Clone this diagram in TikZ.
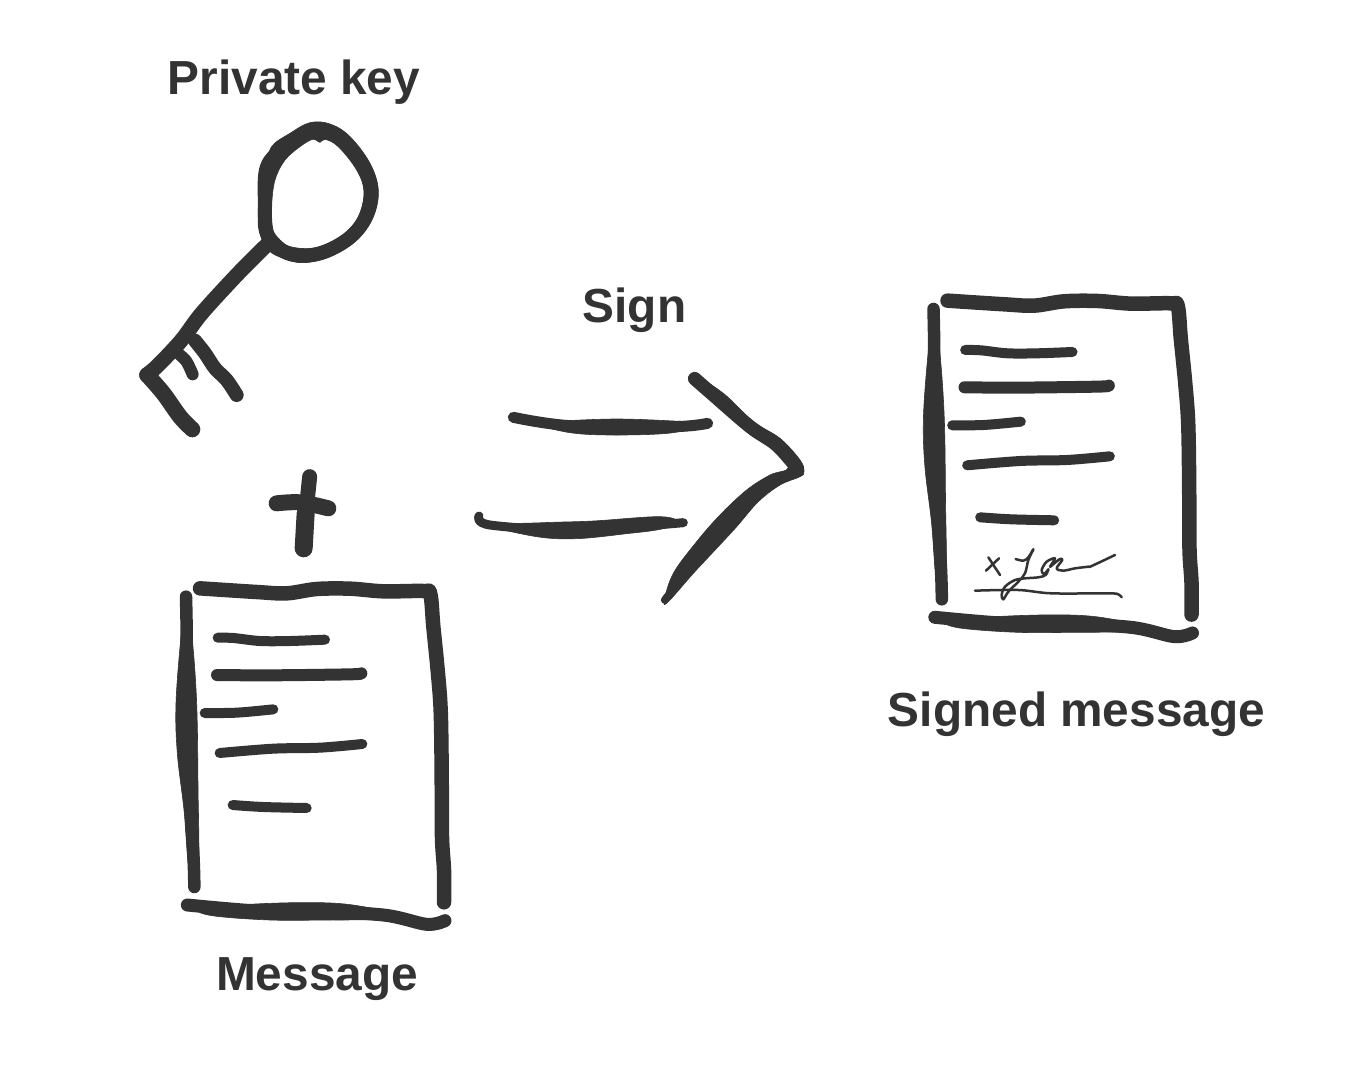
\documentclass[tikz,border=0pt]{standalone}
\usepackage{fontspec}
\setmainfont{Liberation Sans}
\definecolor{inkc}{HTML}{333333}
\newcommand{\inkblob}[1]{\path[ink] plot[smooth cycle, tension=0.6] coordinates {#1};}
\newcommand{\inkline}[2]{\draw[pen,line width=#1pt] plot[smooth, tension=0.55] coordinates {#2};}
\newcommand{\docbody}{%
  % top edge and right edge
  \inkline{14.5}{(90,55)(260,66)(350,70)(440,57)(540,56)(640,64)(760,63)(781,72)(790,170)(803,300)(812,420)(815,600)(816,800)(822,900)(822,997)}
  % left edge
  \inkline{12.5}{(48,80)(50,200)(48,400)(55,600)(70,850)(73,951)}
  \inkblob{(48,90)(33,200)(18,400)(22,550)(42,720)(58,900)(85,900)(84,650)(80,400)(66,200)}
  % bottom edge
  \inkline{13}{(52,1005)(250,1022)(400,1022)(640,1035)(770,1063)(825,1052)}
  \inkblob{(100,1015)(300,1000)(500,1000)(640,1022)(720,1045)(770,1078)(640,1052)(500,1050)(300,1050)(120,1036)}
  % text lines
  \inkline{10}{(143,203)(190,204)(270,213)(360,213)(465,209)}
  \inkline{12}{(141,315)(300,316)(540,313)(574,310)}
  \inkline{10}{(104,429)(200,428)(310,418)}
  \inkline{10}{(149,549)(310,536)(450,533)(577,522)}
  \inkline{10}{(188,705)(280,711)(410,714)}
}
\tikzset{
  ink/.style={fill=inkc,draw=inkc,line width=0.6pt,line join=round},
  pen/.style={draw=inkc,line cap=round,line join=round},
  zoomed/.style={x=0.33333pt,y=-0.33333pt},
  lbl/.style={text=inkc,font=\fontsize{47.8pt}{50pt}\selectfont\bfseries,anchor=base,inner sep=0pt}
}
\begin{document}
\begin{tikzpicture}[x=1pt,y=-1pt]
\useasboundingbox[fill=white] (0,0) rectangle (1345,1074);
% labels
\node[lbl] (keylabel) at (294,94.5) {Private key};
\node[lbl] (signlabel) at (634.5,322.5) {Sign};
\node[lbl] (signedlabel) at (1076.5,726) {Signed message};
\node[lbl] (msglabel) at (317,990) {Message};
% key
\begin{scope}[shift={(130,110)},zoomed]
  \draw[pen,line width=14pt] plot[smooth cycle, tension=0.6] coordinates {(408,180)(445,125)(500,84)(545,62)(600,65)(645,95)(700,170)(723,242)(708,320)(660,382)(585,425)(515,437)(458,422)(410,368)(405,290)};
  \path[ink,even odd rule]
    plot[smooth cycle, tension=0.6] coordinates {(408,175)(425,110)(480,70)(540,38)(600,42)(660,80)(720,160)(745,240)(730,320)(680,390)(600,440)(520,458)(460,445)(415,420)(390,370)(385,290)(395,220)}
    plot[smooth cycle, tension=0.6] coordinates {(548,88)(570,97)(585,88)(625,110)(680,180)(702,245)(685,320)(640,375)(570,410)(510,415)(455,400)(430,365)(425,290)(435,210)(465,150)(510,110)};
  \inkline{15}{(410,405)(325,490)(215,610)(155,690)(85,765)(50,795)}
  \inkline{14}{(195,692)(225,730)(255,775)(290,810)(320,855)}
  \inkline{12}{(150,735)(170,755)(188,793)}
  \inkline{16}{(52,795)(100,850)(150,920)(187,958)}
\end{scope}
% plus
\begin{scope}[shift={(260,460)},zoomed]
  \inkline{15}{(149,50)(138,160)(130,265)}
  \inkline{18}{(137,160)(131,265)}
  \inkline{16}{(50,130)(120,127)(205,145)}
\end{scope}
% message document
\begin{scope}[shift={(170,570)},zoomed]
  \docbody
\end{scope}
% arrow
\begin{scope}[shift={(460,360)},zoomed]
  \inkline{11}{(160,172)(330,197)(640,200)(743,190)}
  \inkblob{(220,188)(300,183)(470,177)(640,183)(725,190)(640,218)(470,225)(330,218)}
  \inkline{9}{(57,468)(90,495)(350,510)(670,488)}
  \inkblob{(100,497)(250,488)(400,483)(600,470)(655,488)(600,508)(500,521)(350,536)(230,530)}
  \inkline{13.5}{(704,56)(760,105)(870,200)(950,255)(1012,325)}
  \inkblob{(702,45)(790,100)(880,185)(960,235)(1020,300)(1032,335)(1020,350)(960,375)(895,425)(830,500)(770,565)(700,640)(625,725)(613,722)(640,640)(710,545)(780,465)(860,390)(930,345)(985,323)(940,270)(860,215)(790,140)(720,80)(702,65)}
  \inkline{7}{(760,545)(700,610)(613,720)}
\end{scope}
% signed document
\begin{scope}[shift={(917.5,282.3)},zoomed]
  \docbody
\end{scope}
% signature
\begin{scope}[shift={(975,540)},zoomed]
  \draw[pen,line width=2.5pt] (40,52) -- (75,105);
  \draw[pen,line width=2.5pt] (33,92) -- (72,55);
  \inkline{2.5}{(122,57)(145,62)(160,52)(175,28)}
  \inkline{2.5}{(175,28)(160,60)(150,100)(130,125)(100,155)(85,178)(80,165)(90,140)(120,120)(150,115)(190,112)(212,105)(220,88)}
  \inkline{2.5}{(220,88)(207,102)(200,90)(215,65)(240,55)(225,80)(238,70)(255,57)(262,60)(245,85)(265,92)(300,85)(340,80)(350,78)(420,45)}
  \inkline{2.5}{(0,152)(130,150)(230,160)(400,160)(430,163)(440,172)}
\end{scope}
\end{tikzpicture}
\end{document}
